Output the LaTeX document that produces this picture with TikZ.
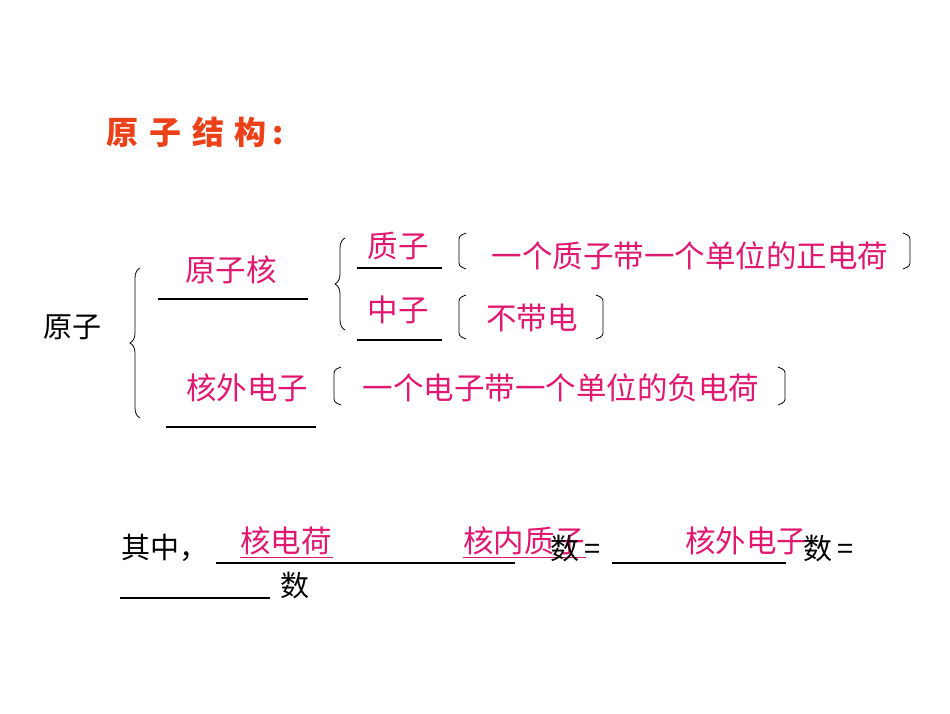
\documentclass[tikz,border=0pt]{standalone}
\usepackage{fontspec}
\setmainfont{Noto Sans CJK SC}
\usetikzlibrary{decorations.pathreplacing}
\definecolor{pk}{RGB}{224,24,112}
\definecolor{tt}{RGB}{235,64,24}
\tikzset{
  pt/.style={text=pk,font=\fontsize{30.5}{32}\selectfont,inner sep=0},
  bt/.style={text=black,font=\fontsize{29}{31}\selectfont,inner sep=0},
  ln/.style={line width=1.2pt},
  br/.style={line width=0.8pt,decorate,decoration={brace,amplitude=10pt}},
  sq/.style={line width=0.8pt,rounded corners=3pt}
}
\begin{document}
\begin{tikzpicture}[x=1pt,y=-1pt]
\useasboundingbox (0,0) rectangle (950,713);
\node[text=tt,font=\fontsize{32}{34}\bfseries\selectfont,inner sep=0] (title) at (195,132) {原\,\,子\,\,结\,\,构\,:};
\node[bt] (yz) at (72,327) {原子};
\draw[br] (140,418) -- (140,268);
\node[pt] (hz) at (231,270) {原子核};
\draw[ln] (158,299) -- (308,299);
\draw[br] (345,330) -- (345,238);
\node[pt] (zz) at (398,246) {质子};
\draw[ln] (357,268) -- (442,268);
\node[pt] (nz) at (398,310) {中子};
\draw[ln] (357,340) -- (442,340);
\node[pt] (hw) at (247,388) {核外电子};
\draw[ln] (166,427) -- (316,427);
\draw[sq] (466,233) -- (459,236) -- (459,266) -- (466,269);
\node[pt] (t1) at (690,256) {一个质子带一个单位的正电荷};
\draw[sq] (903,233) -- (910,236) -- (910,266) -- (903,269);
\draw[sq] (466,295) -- (459,298) -- (459,336) -- (466,339);
\node[pt] (t2) at (532,318) {不带电};
\draw[sq] (596,295) -- (603,298) -- (603,336) -- (596,339);
\draw[sq] (341,367) -- (334,370) -- (334,402) -- (341,405);
\node[pt] (t3) at (561,388) {一个电子带一个单位的负电荷};
\draw[sq] (778,367) -- (785,370) -- (785,402) -- (778,405);
\node[bt] (qz) at (165,548) {其中，};
\draw[ln] (216,563) -- (515,563);
\node[pt] (a1) at (286,541) {核电荷};
\draw[pk,line width=1pt] (240,557) -- (333,557);
\node[pt] (a2) at (524,541) {核内质子};
\draw[pk,line width=1pt] (463,557) -- (586,557);
\node[bt,anchor=west] (s1) at (550,548) {数\,=};
\draw[ln] (612,563) -- (786,563);
\node[pt] (a3) at (746,541) {核外电子};
\node[bt,anchor=west] (s2) at (803,548) {数\,=};
\draw[ln] (120,598) -- (270,598);
\node[bt] (s3) at (295,585) {数};
\end{tikzpicture}
\end{document}
